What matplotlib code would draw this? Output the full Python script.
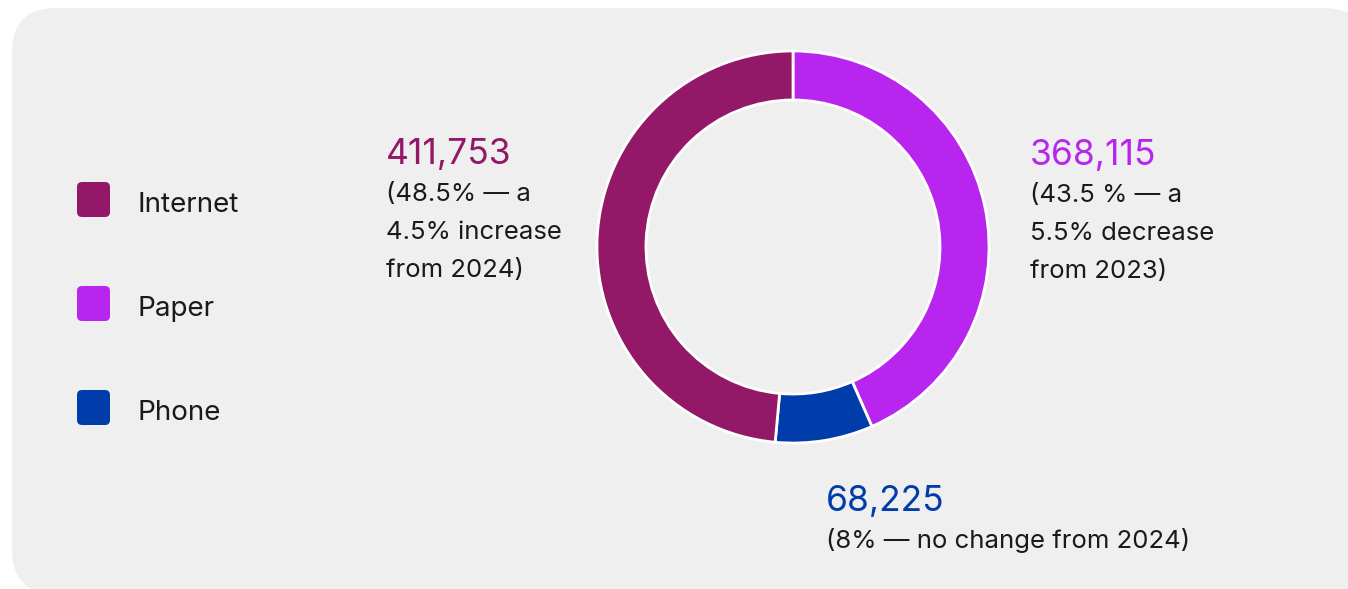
import matplotlib.pyplot as plt
from matplotlib.patches import FancyBboxPatch

# data
categories = ["Internet", "Paper", "Phone"]
counts = [411753, 368115, 68225]
colors = ["#941868", "#b825ef", "#003dab"]
count_labels = ["411,753", "368,115", "68,225"]
notes = [
    "(48.5% — a\n4.5% increase\nfrom 2024)",
    "(43.5 % — a\n5.5% decrease\nfrom 2023)",
    "(8% — no change from 2024)",
]

W, H = 1348, 589
plt.rcParams["font.family"] = ["Inter", "DejaVu Sans"]
fig = plt.figure(figsize=(W / 100, H / 100), dpi=100)
fig.patch.set_facecolor("white")

ax = fig.add_axes([0, 0, 1, 1])
ax.set_xlim(0, W)
ax.set_ylim(H, 0)
ax.axis("off")

# rounded grey card
card = FancyBboxPatch((12, 8), 1356, 586, boxstyle="round,pad=0,rounding_size=44",
                      facecolor="#efefef", edgecolor="none")
ax.add_patch(card)

# legend
for i, (cat, col) in enumerate(zip(categories, colors)):
    y = 199 + i * 104
    sq = FancyBboxPatch((77, y - 17), 33, 35, boxstyle="round,pad=0,rounding_size=5",
                        facecolor=col, edgecolor="none")
    ax.add_patch(sq)
    ax.text(137, y + 13, cat, fontsize=20, color="#1a1a1a", va="baseline", ha="left")

# labels
label_pos = {"Internet": (386, 164), "Paper": (1030, 165), "Phone": (826, 511)}
for cat, col, num, note in zip(categories, colors, count_labels, notes):
    x, y = label_pos[cat]
    ax.text(x, y, num, fontsize=25.5, color=col, va="baseline", ha="left")
    for j, line in enumerate(note.split("\n")):
        ax.text(x, y + 37 + j * 38, line, fontsize=18.5, color="#1a1a1a",
                va="baseline", ha="left")

# donut
cx, cy, r = 793, 247, 198
pax = fig.add_axes([(cx - r) / W, (H - cy - r) / H, 2 * r / W, 2 * r / H])
order = [1, 2, 0]
pax.pie([counts[i] for i in order], colors=[colors[i] for i in order],
        startangle=90, counterclock=False, radius=1,
        wedgeprops=dict(width=0.25, edgecolor="white", linewidth=2))
pax.set_xlim(-1.01, 1.01)
pax.set_ylim(-1.01, 1.01)
pax.axis("off")

fig.savefig("out.png", dpi=100)
